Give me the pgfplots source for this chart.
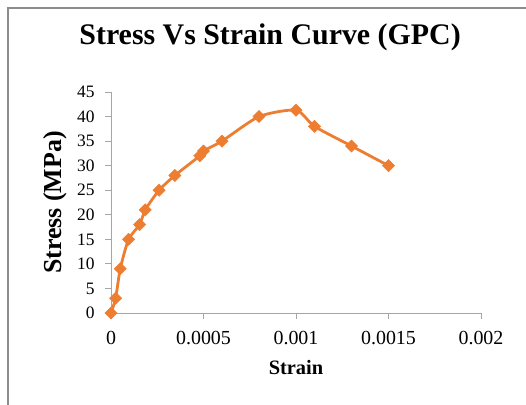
\documentclass[border=0pt]{standalone}
\usepackage{fontspec}
\setmainfont{Liberation Serif}
\usepackage{pgfplots}
\pgfplotsset{compat=1.18}

\definecolor{curveorange}{HTML}{ED7D31}
\definecolor{axisgray}{HTML}{A6A6A6}
\definecolor{framegray}{HTML}{8C8C8C}

\pgfplotstableread{
strain    stress
0         0
0.000025  3
0.00005   9
0.000095  15
0.000155  18
0.000185  21
0.00026   25
0.000345  28
0.00048   32
0.0005    33
0.0006    35
0.0008    40
0.001     41.3
0.0011    38
0.0013    34
0.0015    30
}\gpcdata

\begin{document}
\begin{tikzpicture}
\path[use as bounding box] (0,0) rectangle (526bp,-405bp);
\draw[framegray, line width=1.2bp] (8bp,-405bp) -- (8bp,-8bp) -- (526bp,-8bp);
\begin{axis}[
  at={(111bp,-313bp)}, anchor=origin,
  scale only axis, width=370bp, height=221bp,
  xmin=0, xmax=0.002, ymin=0, ymax=45,
  axis lines=left,
  axis line style={-, axisgray, line width=1bp},
  every tick/.style={axisgray, line width=1bp},
  tick align=outside, major tick length=6bp,
  scaled x ticks=false,
  xtick={0,0.0005,0.001,0.0015,0.002},
  xticklabels={0,0.0005,0.001,0.0015,0.002},
  ytick={0,5,...,45},
  /pgf/number format/assume math mode=true,
  xticklabel style={font=\fontsize{20}{23}\selectfont, yshift=-9bp},
  yticklabel style={font=\fontsize{17.5}{20}\selectfont, xshift=-7bp},
  title={Stress Vs Strain Curve (GPC)},
  title style={at={(axis description cs:0.43,1.19)}, anchor=base, font=\bfseries\fontsize{30}{34}\selectfont},
  xlabel={Strain},
  xlabel style={at={(axis description cs:0.5,-0.28)}, anchor=base, font=\bfseries\fontsize{20.5}{24}\selectfont},
  ylabel={Stress (MPa)},
  ylabel style={at={(axis description cs:-0.151,0.5)}, anchor=center, font=\bfseries\fontsize{26}{30}\selectfont},
  clip=false,
]
\addplot[curveorange, line width=2.8bp, smooth, tension=0.4,
  mark=square*, mark size=4.3bp, mark options={rotate=45, line width=0.5bp, fill=curveorange}]
  table[x=strain, y=stress] {\gpcdata};
\end{axis}
\end{tikzpicture}
\end{document}
